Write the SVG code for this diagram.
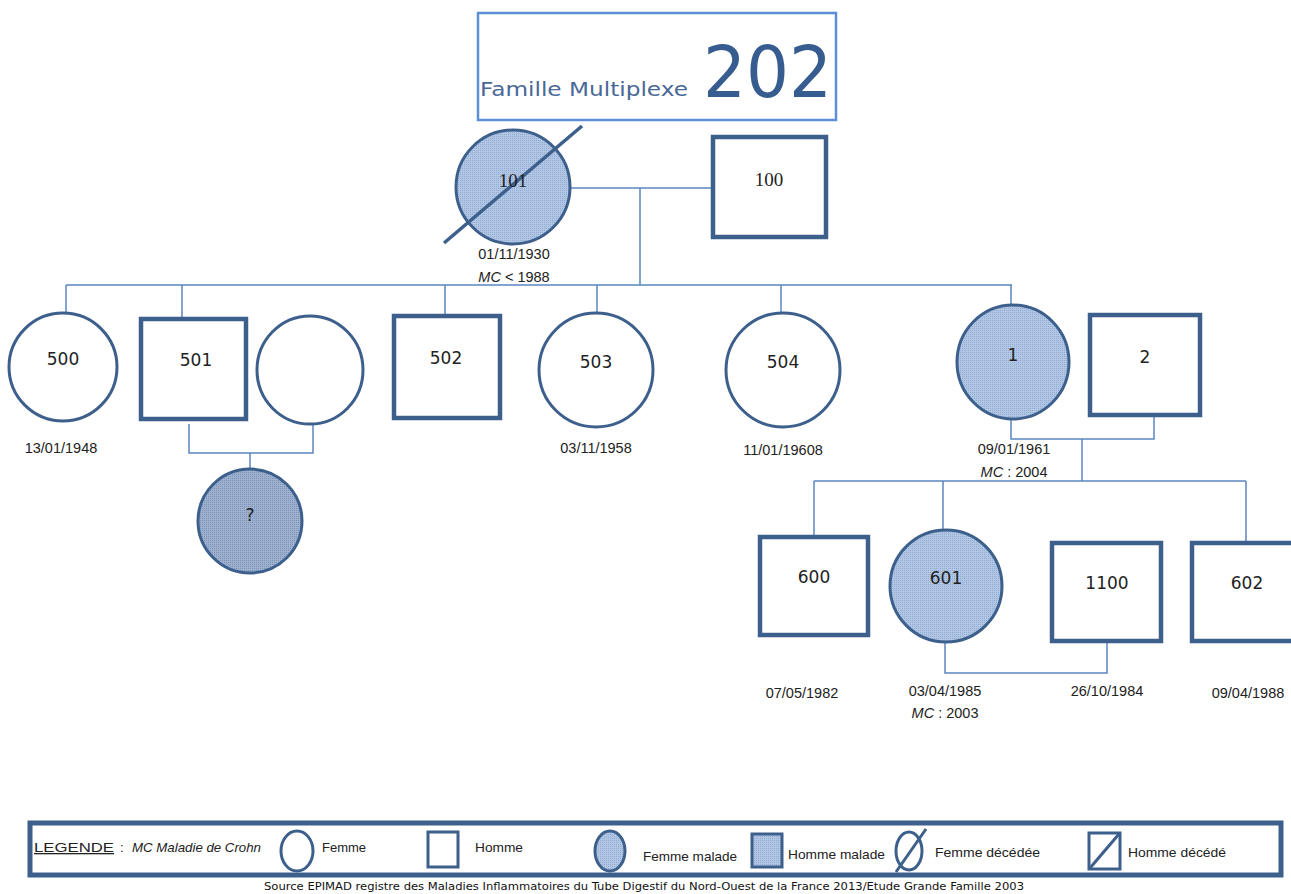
<svg xmlns="http://www.w3.org/2000/svg" width="1291" height="894" viewBox="0 0 1291 894">
<defs>
<pattern id="dots" width="2" height="2" patternUnits="userSpaceOnUse">
<rect width="2" height="2" fill="#b0c6e4"/>
<rect width="1" height="1" fill="#93acd2"/>
</pattern>
<pattern id="dots2" width="2" height="2" patternUnits="userSpaceOnUse">
<rect width="2" height="2" fill="#9db1cf"/>
<rect width="1" height="1" fill="#7d94ba"/>
</pattern>
<style>
.c{fill:#fff;stroke:#3d5f8c;stroke-width:3}
.s{fill:#fff;stroke:#3d5f8c;stroke-width:4.5}
.lbl{font-family:"DejaVu Sans",Verdana,sans-serif;font-size:17px;fill:#222;text-anchor:middle}
.ser{font-family:"Liberation Serif","DejaVu Serif",serif;font-size:19px;fill:#222;text-anchor:middle}
.dt{font-family:"Liberation Sans",Arial,sans-serif;font-size:14.5px;fill:#222;text-anchor:middle}
.it{font-style:italic}
.ln{fill:none;stroke:#5b86c2;stroke-width:1.5}
.lg{font-family:"Liberation Sans",Arial,sans-serif;font-size:13px;fill:#222}
.leg{fill:#fff;stroke:#3d5f8c;stroke-width:3}
.a{fill:url(#dots)}
.q{fill:url(#dots2)}
</style>
</defs>
<rect width="1291" height="894" fill="#fff"/>

<g id="title">
<rect x="478" y="13" width="358" height="107" fill="#fff" stroke="#5c8fd8" stroke-width="2.5"/>
<text x="480" y="96" font-family="DejaVu Sans,sans-serif" font-size="20" fill="#4a6896" textLength="208" lengthAdjust="spacingAndGlyphs">Famille Multiplexe</text>
<text x="703" y="97" font-family="DejaVu Sans,sans-serif" font-size="72" fill="#375c90" textLength="129" lengthAdjust="spacingAndGlyphs">202</text>
</g>

<g id="connectors">
<path class="ln" d="M570 188H712M640 188V285M66 285H1012M66 285V313M182 285V317M445 285V314M597 285V312M781 285V312M1011 285V305"/>
<path class="ln" d="M189 424V453H313V424M250 453V469"/>
<path class="ln" d="M1011 418V439H1154V417M1082 439V481M814 481H1246M814 481V535M943 481V529M1246 481V541"/>
<path class="ln" d="M945 643V673H1107V643"/>
</g>

<g id="n101">
<circle cx="513" cy="187" r="57" class="c a"/>
<line x1="444" y1="243" x2="582" y2="126" stroke="#3d5f8c" stroke-width="3.5"/>
<text x="513" y="187" class="ser">101</text>
<text x="514" y="259" class="dt" font-family="Liberation Serif,serif">01/11/1930</text>
<text x="514" y="282" class="dt"><tspan class="it">MC</tspan> &lt; 1988</text>
</g>
<g id="n100">
<rect x="713" y="137" width="113" height="100" class="s"/>
<text x="769" y="186" class="ser">100</text>
</g>

<g id="n500">
<circle cx="63" cy="367" r="54" class="c"/>
<text x="63" y="365" class="lbl">500</text>
<text x="61" y="453" class="dt">13/01/1948</text>
</g>
<g id="n501">
<rect x="141" y="319" width="105" height="100" class="s"/>
<text x="196" y="366" class="lbl">501</text>
</g>
<g id="n501w">
<ellipse cx="310" cy="370" rx="53" ry="54" class="c"/>
</g>
<g id="nq">
<circle cx="250" cy="521" r="52" class="c q"/>
<text x="250" y="521" class="lbl">?</text>
</g>
<g id="n502">
<rect x="394" y="316" width="106" height="102" class="s"/>
<text x="446" y="364" class="lbl">502</text>
</g>
<g id="n503">
<ellipse cx="596" cy="370" rx="57" ry="57" class="c"/>
<text x="596" y="368" class="lbl">503</text>
<text x="596" y="453" class="dt">03/11/1958</text>
</g>
<g id="n504">
<ellipse cx="783" cy="370" rx="57" ry="57" class="c"/>
<text x="783" y="368" class="lbl">504</text>
<text x="783" y="455" class="dt">11/01/19608</text>
</g>
<g id="n1">
<ellipse cx="1013" cy="362" rx="56" ry="57" class="c a"/>
<text x="1013" y="361" class="lbl">1</text>
<text x="1014" y="454" class="dt">09/01/1961</text>
<text x="1014" y="477" class="dt"><tspan class="it">MC</tspan> : 2004</text>
</g>
<g id="n2">
<rect x="1090" y="315" width="110" height="100" class="s"/>
<text x="1145" y="363" class="lbl">2</text>
</g>
<g id="n600">
<rect x="760" y="537" width="108" height="98" class="s"/>
<text x="814" y="583" class="lbl">600</text>
<text x="802" y="698" class="dt">07/05/1982</text>
</g>
<g id="n601">
<circle cx="946" cy="586" r="56" class="c a"/>
<text x="946" y="584" class="lbl">601</text>
<text x="945" y="696" class="dt">03/04/1985</text>
<text x="945" y="718" class="dt"><tspan class="it">MC</tspan> : 2003</text>
</g>
<g id="n1100">
<rect x="1052" y="543" width="109" height="98" class="s"/>
<text x="1107" y="589" class="lbl">1100</text>
<text x="1107" y="696" class="dt">26/10/1984</text>
</g>
<g id="n602">
<rect x="1192" y="543" width="109" height="98" class="s"/>
<text x="1247" y="589" class="lbl">602</text>
<text x="1248" y="698" class="dt">09/04/1988</text>
</g>

<g id="legend">
<rect x="30" y="823" width="1251" height="52" fill="#fff" stroke="#3d5f8c" stroke-width="5"/>
<text x="34" y="852" class="lg" text-decoration="underline" textLength="80" lengthAdjust="spacingAndGlyphs">LEGENDE</text>
<text x="120" y="852" class="lg">:</text>
<text x="132" y="852" class="lg it" textLength="129" lengthAdjust="spacingAndGlyphs">MC Maladie de Crohn</text>
<ellipse cx="297" cy="851" rx="16" ry="20" class="leg"/>
<text x="322" y="852" class="lg" textLength="44" lengthAdjust="spacingAndGlyphs">Femme</text>
<rect x="428" y="832" width="30" height="35" class="leg"/>
<text x="475" y="852" class="lg" textLength="48" lengthAdjust="spacingAndGlyphs">Homme</text>
<ellipse cx="610" cy="851" rx="15" ry="20" class="leg a"/>
<text x="643" y="861" class="lg" textLength="94" lengthAdjust="spacingAndGlyphs">Femme malade</text>
<rect x="752" y="834" width="30" height="33" class="leg a"/>
<text x="788" y="859" class="lg" textLength="97" lengthAdjust="spacingAndGlyphs">Homme malade</text>
<ellipse cx="909" cy="851" rx="13" ry="19" class="leg"/>
<line x1="896" y1="872" x2="926" y2="829" stroke="#3d5f8c" stroke-width="3"/>
<text x="935" y="857" class="lg" textLength="105" lengthAdjust="spacingAndGlyphs">Femme décédée</text>
<rect x="1089" y="833" width="31" height="36" class="leg"/>
<line x1="1090" y1="868" x2="1119" y2="834" stroke="#3d5f8c" stroke-width="3"/>
<text x="1128" y="857" class="lg" textLength="98" lengthAdjust="spacingAndGlyphs">Homme décédé</text>
</g>

<text x="264" y="890" font-family="DejaVu Sans,sans-serif" font-size="10.5" fill="#111" textLength="760" lengthAdjust="spacingAndGlyphs">Source EPIMAD registre des Maladies Inflammatoires du Tube Digestif du Nord-Ouest de la France 2013/Etude Grande Famille 2003</text>
</svg>
